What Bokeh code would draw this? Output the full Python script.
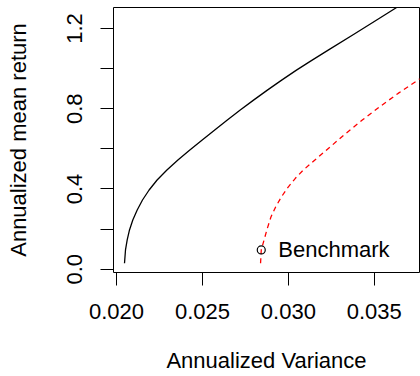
from bokeh.plotting import figure
from bokeh.models import FixedTicker, Range1d
from bokeh.core.properties import value
from bokeh.embed import file_html
from bokeh.resources import INLINE

# Efficient frontier (black solid)
frontier_var = [0.020466, 0.020524, 0.020623, 0.020757, 0.020949, 0.021205, 0.021513,
                0.021898, 0.022363, 0.022934, 0.023574, 0.024267, 0.024988, 0.025716,
                0.026449, 0.027200, 0.027974, 0.028778, 0.029610, 0.030471, 0.031292,
                0.032317, 0.033813, 0.035116, 0.036298, 0.036979]
frontier_mu = [0.0299, 0.0961, 0.1459, 0.1957, 0.2455, 0.2952, 0.3450,
               0.3948, 0.4446, 0.4944, 0.5442, 0.5940, 0.6438, 0.6935,
               0.7433, 0.7931, 0.8429, 0.8927, 0.9425, 0.9923, 1.0371,
               1.0918, 1.1715, 1.2412, 1.3044, 1.3408]

# Benchmark-constrained frontier (red dashed)
bench_var = [0.028382, 0.028423, 0.028615, 0.028778, 0.028993, 0.029267, 0.029604,
             0.029977, 0.030407, 0.030873, 0.031426, 0.032107, 0.033230, 0.034301,
             0.035367, 0.036386, 0.037596, 0.038000]
bench_mu = [0.0299, 0.0961, 0.1543, 0.2041, 0.2619, 0.3117, 0.3615,
            0.4083, 0.4531, 0.4944, 0.5357, 0.5855, 0.6686, 0.7433,
            0.8130, 0.8763, 0.9460, 0.9620]

# Benchmark point
point_var = [0.028423]
point_mu = [0.0961]
point_label = ["Benchmark"]

x_ticks = [0.020, 0.025, 0.030, 0.035]
x_tick_labels = ["0.020", "0.025", "0.030", "0.035"]
y_ticks = [0.0, 0.2, 0.4, 0.6, 0.8, 1.0, 1.2]
y_tick_labels = ["0.0", "", "0.4", "", "0.8", "", "1.2"]
x_title = "Annualized Variance"
y_title = "Annualized mean return"

FONT = "Liberation Sans"
FS = "22px"

p = figure(width=420, height=376, output_backend="svg", toolbar_location=None,
           x_range=Range1d(0.019826, 0.037630), y_range=Range1d(-0.0164, 1.3045),
           min_border_left=113, min_border_right=1, min_border_top=7, min_border_bottom=104,
           x_axis_label=x_title, y_axis_label=y_title)

p.grid.visible = False
p.outline_line_color = "black"
p.outline_line_width = 1
p.background_fill_color = "white"
p.border_fill_color = "white"

p.xaxis.ticker = FixedTicker(ticks=x_ticks)
p.xaxis.major_label_overrides = {t: l for t, l in zip(x_ticks, x_tick_labels)}
p.yaxis.ticker = FixedTicker(ticks=y_ticks)
p.yaxis.major_label_overrides = {t: l for t, l in zip(y_ticks, y_tick_labels)}
p.yaxis.major_label_orientation = "vertical"

for ax in (p.xaxis[0], p.yaxis[0]):
    ax.axis_line_color = None
    ax.major_tick_out = 13
    ax.major_tick_in = 0
    ax.minor_tick_out = 0
    ax.minor_tick_in = 0
    ax.major_tick_line_color = "black"
    ax.major_tick_line_width = 1
    ax.major_label_text_font = FONT
    ax.major_label_text_font_size = FS
    ax.major_label_text_color = "black"
    ax.axis_label_text_font = FONT
    ax.axis_label_text_font_size = FS
    ax.axis_label_text_font_style = "normal"
    ax.axis_label_text_color = "black"

p.xaxis.major_label_standoff = 18
p.xaxis.axis_label_standoff = 26
p.yaxis.major_label_standoff = 18
p.yaxis.axis_label_standoff = 34

p.line(frontier_var, frontier_mu, line_color="black", line_width=1.3)
p.line(bench_var, bench_mu, line_color="#FF0000", line_width=1.3, line_dash="5 4")
p.scatter(point_var, point_mu, marker="circle", size=8, fill_color=None,
          line_color="black", line_width=1.2)
p.text(x=point_var, y=point_mu, text=point_label, x_offset=17, y_offset=0,
       text_font=value(FONT), text_font_size=value(FS), text_baseline="middle",
       text_align="left", text_color="black")

open("out.html", "w").write(file_html(p, INLINE))
